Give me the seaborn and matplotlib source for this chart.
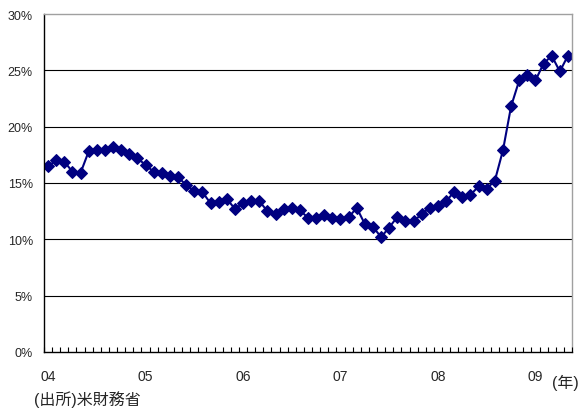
import matplotlib
matplotlib.use("Agg")
import matplotlib.pyplot as plt
import numpy as np
import pandas as pd
import seaborn as sns

# monthly ratio, Jan 2004 - May 2009 (%)
ratio = [16.5, 17.0, 16.9, 16.0, 15.9, 17.8, 17.9, 17.95, 18.2, 17.9, 17.6, 17.2,
         16.6, 16.0, 15.9, 15.6, 15.55, 14.8, 14.3, 14.2, 13.2, 13.3, 13.6, 12.7,
         13.2, 13.4, 13.4, 12.5, 12.25, 12.7, 12.8, 12.6, 11.9, 11.9, 12.2, 11.9,
         11.8, 11.95, 12.8, 11.35, 11.1, 10.2, 11.05, 12.0, 11.6, 11.6, 12.25, 12.8,
         13.0, 13.4, 14.2, 13.8, 13.95, 14.7, 14.5, 15.2, 17.9, 21.8, 24.1, 24.6,
         24.1, 25.6, 26.3, 24.9, 26.3]
year_labels = ["04", "05", "06", "07", "08", "09"]
y_ticks = [0, 5, 10, 15, 20, 25, 30]

df = pd.DataFrame({"month": np.arange(len(ratio)), "ratio": ratio})

sns.set_theme(style="white")
plt.rcParams["font.family"] = ["Liberation Sans", "Noto Sans CJK JP", "DejaVu Sans"]

fig = plt.figure(figsize=(5.81, 4.10), dpi=100)
ax = fig.add_axes([44 / 581, 1 - 353 / 410, 528 / 581, 338 / 410])

sns.lineplot(data=df, x="month", y="ratio", ax=ax, color="#000080",
             marker="D", markersize=6, markeredgecolor="#000080", linewidth=1.5)

n = len(ratio)
ax.set_xlim(-0.5, n - 0.5)
ax.set_ylim(0, 30)
ax.set_yticks(y_ticks)
ax.set_yticklabels([f"{v}%" for v in y_ticks], fontsize=9)
for v in y_ticks[1:-1]:
    ax.axhline(v, color="black", linewidth=0.8, zorder=0)

ax.set_xticks(np.arange(0, n, 12))
ax.set_xticklabels(year_labels, fontsize=10)
ax.tick_params(axis="x", which="major", length=0, pad=12)
ax.tick_params(axis="y", which="major", length=0, pad=8)

# month boundary comb along the bottom axis
ax.vlines(np.arange(-0.5, n, 1), 0, 5 / 338, transform=ax.get_xaxis_transform(),
          color="black", linewidth=0.8, zorder=3, clip_on=False)
ax.set_xlabel("")
ax.set_ylabel("")

for s in ["left", "bottom"]:
    ax.spines[s].set_color("black")
    ax.spines[s].set_linewidth(1.0)
for s in ["top", "right"]:
    ax.spines[s].set_color("#a0a0a0")
    ax.spines[s].set_linewidth(1.0)

fig.text(552 / 581, 1 - 383 / 410, "(年)", fontsize=11.5, va="center", ha="left")
fig.text(34 / 581, 1 - 400 / 410, "(出所)米財務省", fontsize=11.5, va="center", ha="left")

fig.savefig("out.png", dpi=100)
